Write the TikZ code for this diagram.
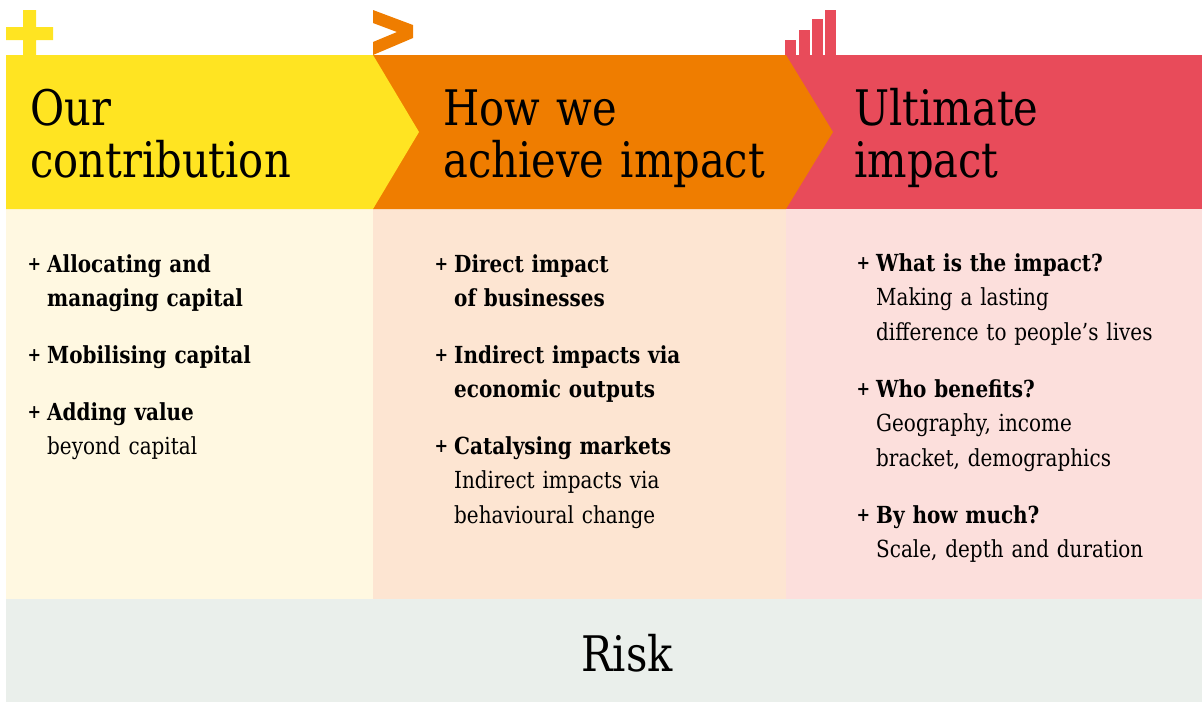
\documentclass[tikz,border=0pt]{standalone}
\usepackage{fontspec}
\setmainfont{DejaVu Serif}[FakeStretch=0.85]
\usepackage{tikz}
\usetikzlibrary{positioning}

\definecolor{contribyellow}{HTML}{FFE422}
\definecolor{achieveorange}{HTML}{EF7D00}
\definecolor{impactred}{HTML}{E84B5A}
\definecolor{paleyellow}{HTML}{FFF8E1}
\definecolor{paleorange}{HTML}{FDE5D2}
\definecolor{palered}{HTML}{FCDFDC}
\definecolor{riskgrey}{HTML}{EAEFEB}

\newcommand{\plusmark}{\llap{\raisebox{1.5pt}{\fontsize{19}{19}\selectfont\textbf{+}}\hspace{6pt}}}

\begin{document}
\begin{tikzpicture}[x=1pt, y=-1pt,
    heading/.style={anchor=base west, inner sep=0pt, text width=360pt, align=left,
        font=\fontsize{49}{52}\selectfont},
    item/.style={anchor=base west, inner sep=0pt, text width=320pt, align=left,
        font=\fontsize{23.5}{34.5}\selectfont}
    ]
    \useasboundingbox (0,0) rectangle (1202,702);

    \fill[palered] (786,209) rectangle (1202,599);
    \fill[paleorange] (373,209) rectangle (786,599);
    \fill[paleyellow] (6,209) rectangle (373,599);
    \fill[riskgrey] (6,599) rectangle (1202,702);

    \fill[impactred] (786,55) rectangle (1202,209);
    \fill[achieveorange] (373,55) -- (786,55) -- (833,132) -- (786,209) -- (373,209) -- cycle;
    \fill[contribyellow] (6,55) -- (373,55) -- (419,132) -- (373,209) -- (6,209) -- cycle;

    \fill[contribyellow] (6,27) rectangle (53,40) (23,10) rectangle (36,55);
    \fill[achieveorange] (373,10) -- (413,25) -- (413,38) -- (373,55) -- (373,42)
        -- (397,32) -- (373,23) -- cycle;
    \foreach \x/\h in {785/40, 799/30, 812/19, 825/10}
        \fill[impactred] (\x,\h) rectangle (\x+11,55);

    \node[heading] (contrib) at (30,125) {Our\\contribution};
    \node[heading] (achieve) at (443,125) {How we\\achieve impact};
    \node[heading] (ultimate) at (854,125) {Ultimate\\impact};

    \node[item] (allocating) at (47,272) {\plusmark\textbf{Allocating and\\managing capital}};
    \node[item] (mobilising) at (47,363) {\plusmark\textbf{Mobilising capital}};
    \node[item] (adding) at (47,420) {\plusmark\textbf{Adding value}\\beyond capital};

    \node[item] (direct) at (454,272) {\plusmark\textbf{Direct impact\\of businesses}};
    \node[item] (indirect) at (454,363) {\plusmark\textbf{Indirect impacts via\\economic outputs}};
    \node[item] (catalysing) at (454,454) {\plusmark\textbf{Catalysing markets}\\Indirect impacts via\\behavioural change};

    \node[item] (what) at (876,271) {\plusmark\textbf{What is the impact?}\\Making a lasting\\difference to people’s lives};
    \node[item] (who) at (876,397) {\plusmark\textbf{Who benefits?}\\Geography, income\\bracket, demographics};
    \node[item] (much) at (876,523) {\plusmark\textbf{By how much?}\\Scale, depth and duration};

    \node[anchor=base, inner sep=0pt, font=\fontsize{49}{52}\selectfont] (risk) at (627,671) {Risk};
\end{tikzpicture}
\end{document}
